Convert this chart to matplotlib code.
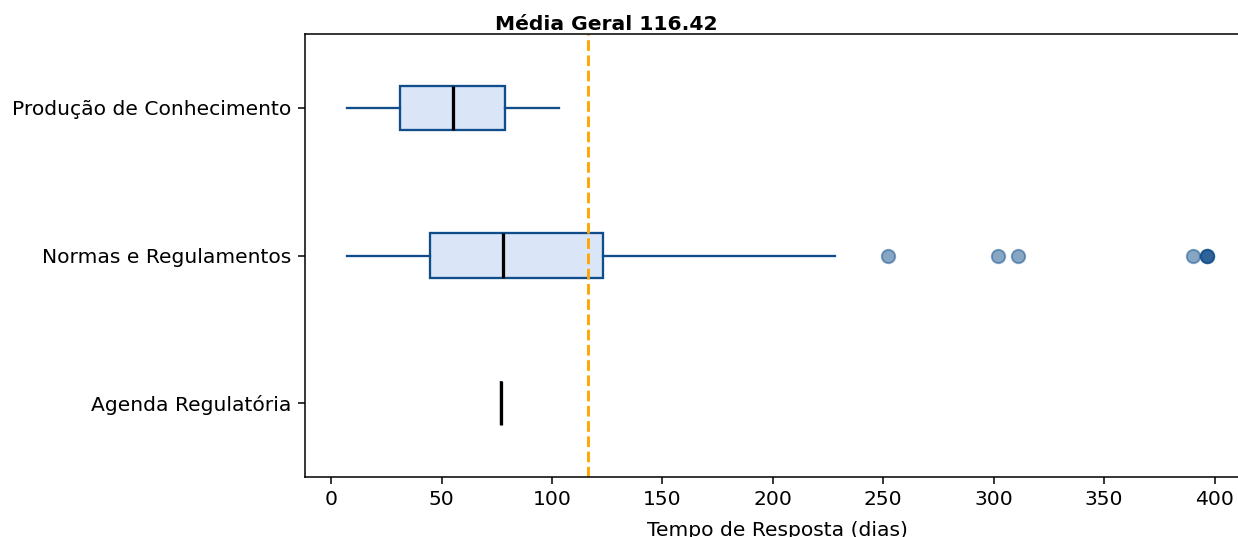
import matplotlib
matplotlib.use("Agg")
import matplotlib.pyplot as plt

# dados (tempo de resposta em dias)
categorias = ["Agenda Regulatória", "Normas e Regulamentos", "Produção de Conhecimento"]
medianas = [77.0, 77.9, 55.3]
q1 = [77.0, 44.8, 31.3]
q3 = [77.0, 123.2, 78.8]
whis_baixo = [77.0, 7.2, 7.2]
whis_alto = [77.0, 228.3, 103.3]
outliers = [[], [251.9, 301.7, 310.8, 390.0, 396.4, 396.4, 396.4], []]
media_geral = 116.42

stats = []
for i in range(len(categorias)):
    stats.append({"label": categorias[i], "med": medianas[i], "q1": q1[i], "q3": q3[i],
                  "whislo": whis_baixo[i], "whishi": whis_alto[i], "fliers": outliers[i]})

fig = plt.figure(figsize=(1238 / 138, 537 / 138), dpi=138)
ax = fig.add_axes([305 / 1238, 60 / 537, 945 / 1238, 443 / 537])

cor_borda = "#104e8b"
ax.bxp(stats, vert=False, widths=0.3, showcaps=False, patch_artist=True,
       boxprops=dict(facecolor="#dae5f8", edgecolor=cor_borda, linewidth=1.2),
       whiskerprops=dict(color=cor_borda, linewidth=1.2),
       medianprops=dict(color="black", linewidth=1.7),
       flierprops=dict(marker="o", markersize=7, markerfacecolor=cor_borda,
                       markeredgecolor=cor_borda, alpha=0.5))

ax.axvline(media_geral, color="orange", linestyle="--", linewidth=1.5)
ax.text(media_geral + 8, 3.5, "Média Geral %.2f" % media_geral, ha="center", va="bottom",
        fontsize=10.6, fontweight="bold")

ax.set_xlim(-11.8, 416)
ax.set_ylim(0.5, 3.5)
ax.set_xticks(range(0, 401, 50))
ax.tick_params(labelsize=10.6)
ax.set_xlabel("Tempo de Resposta (dias)", fontsize=10.6, labelpad=6)

plt.savefig("out.png", dpi=138)
